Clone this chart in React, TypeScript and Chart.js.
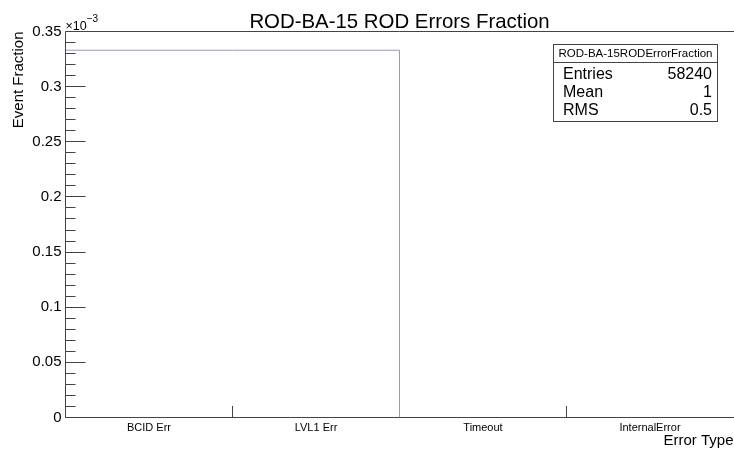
import React, { useEffect, useRef } from "react";
import { Chart, registerables } from "chart.js";

Chart.register(...registerables);

// Histogram content: one bin per error type
const errorTypes = ["BCID Err", "LVL1 Err", "Timeout", "InternalError"];
const eventFraction = [0.000333, 0.000333, 0, 0];

// Y axis labels are printed in units of 10^-3
const yTickValues = [0, 0.05, 0.1, 0.15, 0.2, 0.25, 0.3, 0.35];
const yMinorStep = 0.01;
const yMax = 0.35;

// Statistics box
const statsTitle = "ROD-BA-15RODErrorFraction";
const statsRows: [string, string][] = [
  ["Entries", "58240"],
  ["Mean", "1"],
  ["RMS", "0.5"],
];

const chartTitle = "ROD-BA-15 ROD Errors Fraction";
const FONT = "'Liberation Sans', Arial, Helvetica, sans-serif";
const AXIS_COLOR = "#444444";

// Bin edges and step outline for the histogram
const binEdges = errorTypes.map((_, i) => i).concat([errorTypes.length]);
const outline = [{ x: 0, y: 0 }]
  .concat(eventFraction.map((v, i) => ({ x: binEdges[i], y: v })))
  .concat([{ x: binEdges[binEdges.length - 1], y: eventFraction[eventFraction.length - 1] }]);

const crisp = (v: number) => Math.floor(v) + 0.5;

const rootFrame = {
  id: "rootFrame",
  beforeDatasetsDraw(chart: any) {
    // bin-edge ticks sit underneath the histogram outline
    const { ctx, chartArea } = chart;
    const xs = chart.scales.x;
    const B = crisp(chartArea.bottom);
    const xTick = 0.03 * (chartArea.bottom - chartArea.top);
    ctx.save();
    ctx.strokeStyle = AXIS_COLOR;
    ctx.lineWidth = 1;
    ctx.beginPath();
    binEdges.slice(1, -1).forEach((e) => {
      const px = crisp(xs.getPixelForValue(e));
      ctx.moveTo(px, B);
      ctx.lineTo(px, B - xTick);
    });
    ctx.stroke();
    ctx.restore();
  },
  afterDatasetsDraw(chart: any) {
    const { ctx, chartArea } = chart;
    const ys = chart.scales.y;
    const L = crisp(chartArea.left);
    const R = chart.width;
    const T = crisp(chartArea.top);
    const B = crisp(chartArea.bottom);
    ctx.save();
    ctx.strokeStyle = AXIS_COLOR;
    ctx.lineWidth = 1;
    ctx.beginPath();
    ctx.moveTo(L, T);
    ctx.lineTo(R, T);
    ctx.moveTo(L, T);
    ctx.lineTo(L, B);
    ctx.lineTo(R, B);
    ctx.stroke();

    // y ticks pointing into the frame
    const major = 0.03 * (chartArea.right - chartArea.left);
    ctx.beginPath();
    const nMinor = Math.round(yMax / yMinorStep);
    for (let i = 0; i <= nMinor; i++) {
      const v = i * yMinorStep;
      const isMajor = i % 5 === 0;
      const py = crisp(ys.getPixelForValue(v * 1e-3));
      ctx.moveTo(L, py);
      ctx.lineTo(L + (isMajor ? major : major / 2), py);
    }
    ctx.stroke();
    ctx.restore();
  },
  afterDraw(chart: any) {
    const { ctx, chartArea } = chart;
    ctx.save();
    ctx.fillStyle = "#000";
    // title
    ctx.font = `20.4px ${FONT}`;
    ctx.textAlign = "center";
    ctx.textBaseline = "alphabetic";
    ctx.fillText(chartTitle, (chartArea.left + chartArea.right) / 2, 28);

    // exponent marker
    ctx.textAlign = "left";
    ctx.font = `12.5px ${FONT}`;
    ctx.fillText("\u00d710", chartArea.left, chartArea.top - 2);
    const w = ctx.measureText("\u00d710").width;
    ctx.font = `10px ${FONT}`;
    ctx.fillText("\u22123", chartArea.left + w, chartArea.top - 9.5);

    // stats box
    const bx = 553.5, by = 44.5, bw = 164, bh = 77, sep = 62.5;
    ctx.fillStyle = "#fff";
    ctx.fillRect(bx, by, bw, bh);
    ctx.strokeStyle = AXIS_COLOR;
    ctx.lineWidth = 1;
    ctx.strokeRect(bx, by, bw, bh);
    ctx.beginPath();
    ctx.moveTo(bx, sep);
    ctx.lineTo(bx + bw, sep);
    ctx.stroke();
    ctx.fillStyle = "#000";
    ctx.font = `11.5px ${FONT}`;
    ctx.textAlign = "center";
    ctx.textBaseline = "middle";
    ctx.fillText(statsTitle, bx + bw / 2, (by + sep) / 2 + 0.5);
    ctx.font = `16px ${FONT}`;
    const rowY = [75, 93, 111];
    statsRows.forEach(([k, v], i) => {
      ctx.textAlign = "left";
      ctx.fillText(k, 563, rowY[i]);
      ctx.textAlign = "right";
      ctx.fillText(v, 712, rowY[i]);
    });
    ctx.restore();
  },
};

export default function App() {
  const ref = useRef<HTMLCanvasElement>(null);

  useEffect(() => {
    if (!ref.current) return;
    const chart = new Chart(ref.current, {
      type: "line",
      data: {
        datasets: [
          {
            data: outline,
            stepped: "before",
            borderColor: "rgb(150,150,212)",
            borderWidth: 1,
            pointRadius: 0,
            fill: false,
          },
        ],
      },
      options: {
        responsive: false,
        animation: false,
        devicePixelRatio: 1,
        layout: { padding: { top: 31.5, left: 0, right: 0.5, bottom: 0 } },
        plugins: {
          legend: { display: false },
          tooltip: { enabled: false },
          title: { display: false },
        },
        scales: {
          x: {
            type: "linear",
            min: 0,
            max: errorTypes.length,
            grid: { display: false, drawTicks: false },
            border: { display: false },
            afterBuildTicks: (s: any) => {
              s.ticks = errorTypes.map((_, i) => ({ value: i + 0.5 }));
            },
            afterFit: (s: any) => {
              s.height = 32.5;
            },
            ticks: {
              autoSkip: false,
              maxRotation: 0,
              padding: 4,
              color: "#000",
              font: { size: 11, family: FONT },
              callback: (v: any) => errorTypes[Math.floor(Number(v))],
            },
            title: {
              display: true,
              text: "Error Type",
              align: "end",
              color: "#000",
              font: { size: 15, family: FONT },
              padding: 0,
            },
          },
          y: {
            type: "linear",
            min: 0,
            max: yMax * 1e-3,
            grid: { display: false, drawTicks: false },
            border: { display: false },
            afterBuildTicks: (s: any) => {
              s.ticks = yTickValues.map((v) => ({ value: v * 1e-3 }));
            },
            afterFit: (s: any) => {
              s.width = 65.5;
            },
            ticks: {
              padding: 4,
              color: "#000",
              font: { size: 15, family: FONT },
              callback: (v: any) => String(Math.round(Number(v) * 1e5) / 100),
            },
            title: {
              display: true,
              text: "Event Fraction",
              align: "end",
              color: "#000",
              font: { size: 15, family: FONT },
              padding: { top: 10, bottom: 0 },
            },
          },
        },
      },
      plugins: [rootFrame],
    });
    return () => chart.destroy();
  }, []);

  return (
    <div style={{ position: "fixed", left: 0, top: 0, width: 734, height: 450, background: "#fff" }}>
      <canvas ref={ref} width={734} height={450} />
    </div>
  );
}
